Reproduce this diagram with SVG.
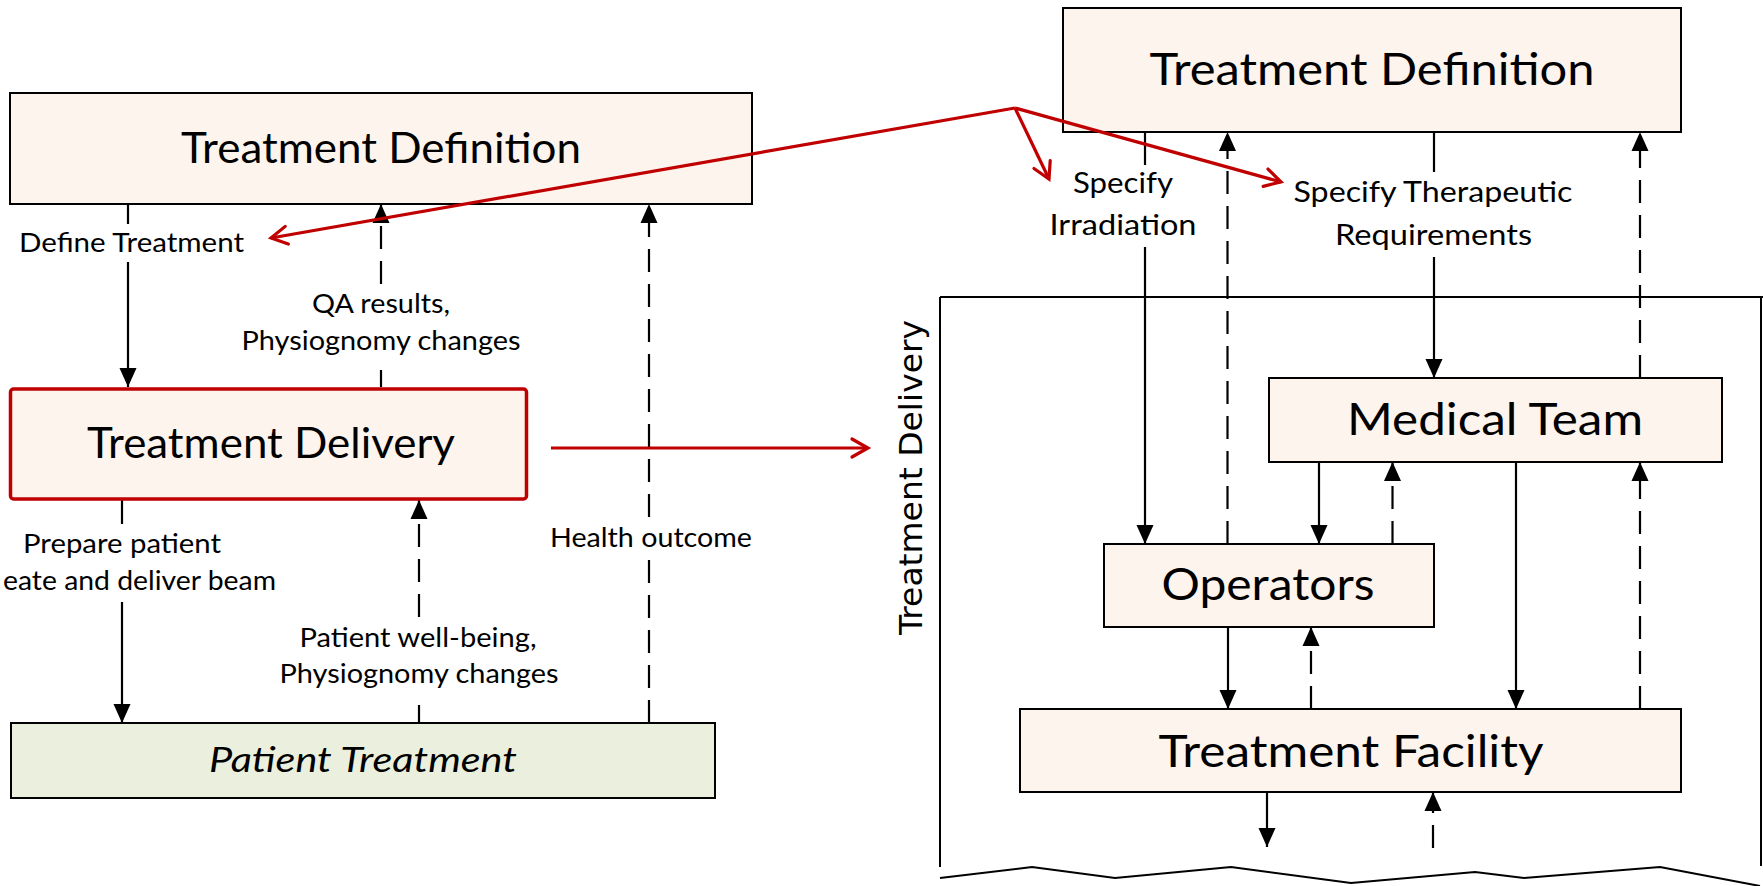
<svg xmlns="http://www.w3.org/2000/svg" width="1763" height="886" viewBox="0 0 1763 886">
  <style>
    .box { fill: #FDF4EE; stroke: #000; stroke-width: 2; }
    .green { fill: #EAF0DD; stroke: #000; stroke-width: 2; }
    .sel { fill: #FDF4EE; stroke: #C00000; stroke-width: 3.5; }
    .title { font-family: Lato, "Liberation Sans", sans-serif; fill: #000; text-anchor: middle; }
    .lbl { font-family: Lato, "Liberation Sans", sans-serif; fill: #000; text-anchor: middle; }
    .solid { stroke: #000; stroke-width: 2.2; fill: none; }
    .arr { marker-end: url(#ah); }
    .dash { stroke: #000; stroke-width: 2.2; fill: none; stroke-dasharray: 23 12; }
    .red { stroke: #C00000; stroke-width: 3.2; fill: none; marker-end: url(#rh); }
    .frame { stroke: #000; stroke-width: 2; fill: none; }
  </style>
  <defs>
    <marker id="ah" viewBox="-20 -10 22 20" refX="0" refY="0" markerWidth="22" markerHeight="20" markerUnits="userSpaceOnUse" orient="auto">
      <path d="M0,0 L-19,-8.5 L-19,8.5 z" fill="#000"/>
    </marker>
    <marker id="rh" viewBox="-20 -12 24 24" refX="0" refY="0" markerWidth="24" markerHeight="24" markerUnits="userSpaceOnUse" orient="auto">
      <path d="M-16,-9 L0,0 L-16,9" fill="none" stroke="#C00000" stroke-width="3.2" stroke-linecap="round" stroke-linejoin="miter"/>
    </marker>
  </defs>

  <rect width="1763" height="886" fill="#fff"/>

  <!-- Treatment Delivery frame with torn bottom edge -->
  <g id="delivery-frame">
    <path class="frame" d="M940,297 L940,867 M940,297 L1763,297 M1761,297 L1761,866"/>
    <polyline class="frame" points="940,878 1032,867 1115,878 1231,867 1351,883 1475,872 1524,878 1660,867 1760,886"/>
    <text transform="translate(922,477.5) rotate(-90)" font-family="'DejaVu Sans', sans-serif" font-size="32" text-anchor="middle" textLength="315" lengthAdjust="spacingAndGlyphs">Treatment Delivery</text>
  </g>

  <!-- black connectors -->
  <g id="connectors">
    <!-- left hierarchy -->
    <line class="solid" x1="128" y1="204" x2="128" y2="224"/>
    <line class="solid arr" x1="128" y1="262" x2="128" y2="387"/>
    <line class="dash" x1="381" y1="387" x2="381" y2="370"/>
    <line class="dash arr" x1="381" y1="284" x2="381" y2="204"/>
    <line class="solid" x1="122" y1="500" x2="122" y2="524"/>
    <line class="solid arr" x1="122" y1="602" x2="122" y2="723"/>
    <line class="dash" x1="419" y1="723" x2="419" y2="705"/>
    <line class="dash arr" x1="419" y1="617" x2="419" y2="500"/>
    <line class="dash" x1="649" y1="723" x2="649" y2="557"/>
    <line class="dash arr" x1="649" y1="517" x2="649" y2="204"/>

    <!-- right detail -->
    <line class="solid" x1="1145" y1="132" x2="1145" y2="165"/>
    <line class="solid arr" x1="1145" y1="247" x2="1145" y2="544"/>
    <line class="dash arr" x1="1227.5" y1="544" x2="1227.5" y2="132"/>
    <line class="solid" x1="1434" y1="132" x2="1434" y2="172"/>
    <line class="solid arr" x1="1434" y1="257" x2="1434" y2="378"/>
    <line class="dash arr" x1="1640" y1="378" x2="1640" y2="132"/>
    <line class="solid arr" x1="1319" y1="462" x2="1319" y2="544"/>
    <line class="dash arr" x1="1392.5" y1="544" x2="1392.5" y2="462"/>
    <line class="solid arr" x1="1516" y1="462" x2="1516" y2="709"/>
    <line class="dash arr" x1="1640" y1="709" x2="1640" y2="462"/>
    <line class="solid arr" x1="1228" y1="627" x2="1228" y2="709"/>
    <line class="dash arr" x1="1311" y1="709" x2="1311" y2="627"/>
    <line class="solid arr" x1="1267" y1="792" x2="1267" y2="847"/>
    <line class="dash arr" x1="1433" y1="848" x2="1433" y2="792"/>
  </g>

  <!-- connector labels -->
  <g id="labels">
    <text class="lbl" x="131.5" y="252" font-size="26.5" textLength="225" lengthAdjust="spacingAndGlyphs">Define Treatment</text>
    <text class="lbl" x="381" y="313" font-size="26.5" textLength="138" lengthAdjust="spacingAndGlyphs">QA results,</text>
    <text class="lbl" x="381" y="350" font-size="26.5" textLength="279" lengthAdjust="spacingAndGlyphs">Physiognomy changes</text>
    <text class="lbl" x="122" y="553" font-size="26.5" textLength="198" lengthAdjust="spacingAndGlyphs">Prepare patient</text>
    <text class="lbl" x="276" y="590" font-size="26.5" style="text-anchor:end" textLength="273" lengthAdjust="spacingAndGlyphs">eate and deliver beam</text>
    <text class="lbl" x="418" y="647" font-size="26.5" textLength="237" lengthAdjust="spacingAndGlyphs">Patient well-being,</text>
    <text class="lbl" x="419" y="683" font-size="26.5" textLength="279" lengthAdjust="spacingAndGlyphs">Physiognomy changes</text>
    <text class="lbl" x="651" y="547" font-size="26.5" textLength="202" lengthAdjust="spacingAndGlyphs">Health outcome</text>
    <text class="lbl" x="1123" y="193" font-size="29" textLength="100" lengthAdjust="spacingAndGlyphs">Specify</text>
    <text class="lbl" x="1123" y="235" font-size="29" textLength="147" lengthAdjust="spacingAndGlyphs">Irradiation</text>
    <text class="lbl" x="1433" y="202" font-size="29" textLength="279" lengthAdjust="spacingAndGlyphs">Specify Therapeutic</text>
    <text class="lbl" x="1433.5" y="245" font-size="29" textLength="197" lengthAdjust="spacingAndGlyphs">Requirements</text>
  </g>

  <g id="treatment-definition-left">
    <rect class="box" x="10" y="93" width="742" height="111"/>
    <text class="title" x="381" y="163" font-size="42" textLength="400" lengthAdjust="spacingAndGlyphs">Treatment Definition</text>
  </g>

  <g id="treatment-delivery-left">
    <rect class="sel" x="10.5" y="389" width="516" height="110" rx="3"/>
    <text class="title" x="271" y="458" font-size="42" textLength="368" lengthAdjust="spacingAndGlyphs">Treatment Delivery</text>
  </g>

  <g id="patient-treatment">
    <rect class="green" x="11" y="723" width="704" height="75"/>
    <text class="title" x="363" y="772" font-size="35.5" font-style="italic" textLength="308" lengthAdjust="spacingAndGlyphs">Patient Treatment</text>
  </g>

  <g id="treatment-definition-right">
    <rect class="box" x="1063" y="8" width="618" height="124"/>
    <text class="title" x="1372" y="85" font-size="45" textLength="445" lengthAdjust="spacingAndGlyphs">Treatment Definition</text>
  </g>

  <g id="medical-team">
    <rect class="box" x="1269" y="378" width="453" height="84"/>
    <text class="title" x="1495" y="435" font-size="44" textLength="296" lengthAdjust="spacingAndGlyphs">Medical Team</text>
  </g>

  <g id="operators">
    <rect class="box" x="1104" y="544" width="330" height="83"/>
    <text class="title" x="1268" y="600" font-size="44" textLength="213" lengthAdjust="spacingAndGlyphs">Operators</text>
  </g>

  <g id="treatment-facility">
    <rect class="box" x="1020" y="709" width="661" height="83"/>
    <text class="title" x="1351" y="767" font-size="44" textLength="385" lengthAdjust="spacingAndGlyphs">Treatment Facility</text>
  </g>

  <!-- red zoom-in connectors -->
  <g id="zoom-connectors">
    <line class="red" x1="1015" y1="108" x2="271" y2="238"/>
    <line class="red" x1="1015" y1="108" x2="1049" y2="179"/>
    <line class="red" x1="1015" y1="108" x2="1281" y2="182"/>
    <line class="red" x1="551" y1="448" x2="868" y2="448"/>
  </g>
</svg>
